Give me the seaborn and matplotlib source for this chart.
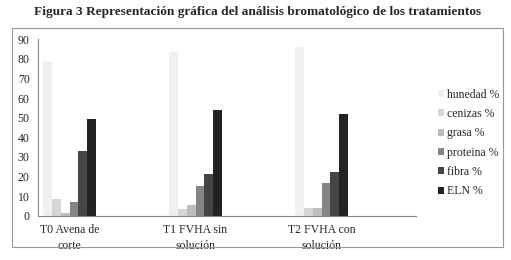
import matplotlib
matplotlib.use("Agg")
import matplotlib.pyplot as plt
import seaborn as sns
import pandas as pd
from matplotlib.patches import Rectangle

# data
tratamientos = ["T0", "T1", "T2"]
etiquetas = ["T0 Avena de\ncorte", "T1 FVHA sin\nsolución", "T2 FVHA con\nsolución"]
componentes = ["hunedad %", "cenizas %", "grasa %", "proteina %", "fibra %", "ELN %"]
hunedad  = [78.9, 83.7, 85.9]
cenizas  = [8.3, 3.4, 4.1]
grasa    = [1.5, 5.4, 4.1]
proteina = [7.0, 15.1, 16.5]
fibra    = [33.2, 21.1, 22.3]
eln      = [49.3, 53.7, 51.7]

colores = ["#f0f0f0", "#d6d6d6", "#bdbdbd", "#858585", "#454545", "#222222"]

series = [hunedad, cenizas, grasa, proteina, fibra, eln]
rows = []
for comp, vals in zip(componentes, series):
    for t, v in zip(tratamientos, vals):
        rows.append({"trat": t, "comp": comp, "valor": v})
df = pd.DataFrame(rows)

sns.set_style("white")
plt.rcParams["font.family"] = ["Liberation Serif", "DejaVu Serif"]

fig = plt.figure(figsize=(5.11, 2.60), dpi=100)
ax = fig.add_axes([38/511, 1-215.7/260, (416-38)/511, (215.7-39.3)/260])

# empty slots between treatments, like the original excel chart
orden = ["T0", "g1", "T1", "g2", "T2", "g3"]
sns.barplot(data=df, x="trat", y="valor", hue="comp", order=orden,
            hue_order=componentes, palette=colores, width=0.83, gap=0,
            saturation=1, linewidth=0, ax=ax)

ax.set_ylim(0, 90)
ax.set_yticks(range(0, 91, 10))
ax.set_xlim(-0.5, 5.5)
ax.set_xticks([i - 0.5 for i in range(7)])
ax.set_xticklabels([])
ax.set_xticks([0, 2, 4], minor=True)
ax.set_xticklabels(etiquetas, minor=True, fontsize=8.5, linespacing=1.45)
ax.tick_params(axis="x", which="major", length=4, width=0.8, color="#888888", direction="out")
ax.tick_params(axis="x", which="minor", length=0, pad=6)
ax.tick_params(axis="y", length=4, width=0.8, color="#888888", direction="out", labelsize=8.5, pad=2)
ax.set_xlabel("")
ax.set_ylabel("")
for s in ["top", "right"]:
    ax.spines[s].set_visible(False)
for s in ["left", "bottom"]:
    ax.spines[s].set_color("#888888")
    ax.spines[s].set_linewidth(0.8)

h, l = ax.get_legend_handles_labels()
ax.legend_.remove()
fig.legend(h, l, loc="upper left", bbox_to_anchor=(433/511, 1-84/260),
           frameon=False, fontsize=8.5, handlelength=0.55, handleheight=0.55,
           handletextpad=0.2, labelspacing=0.62, borderaxespad=0)

fig.text(0.505, 1-12/260, "Figura 3 Representación gráfica del análisis bromatológico de los tratamientos",
         ha="center", va="center", fontsize=9.6, fontweight="bold")

fig.patches.append(Rectangle((12/511, 1-247/260), (503-12)/511, (247-28)/260,
                             transform=fig.transFigure, fill=False,
                             edgecolor="#999999", linewidth=0.8))

fig.savefig("out.png", dpi=100)
